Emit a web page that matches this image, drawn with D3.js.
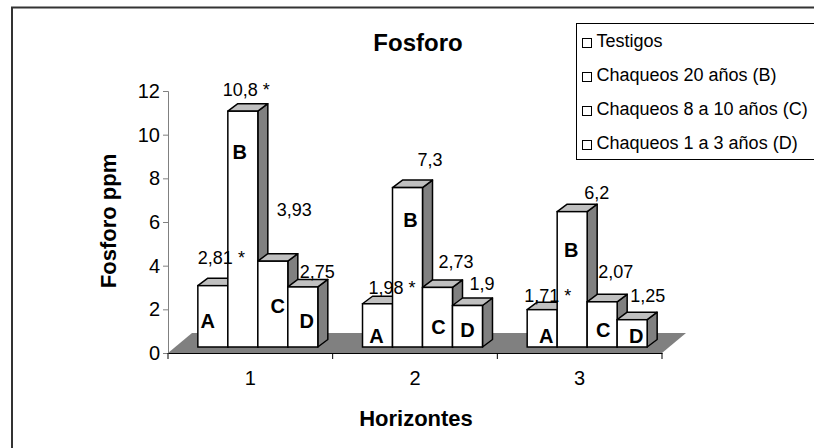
<!DOCTYPE html>
<html lang="es">
<head>
  <meta charset="UTF-8" />
  <title>Fosforo</title>
  <script src="https://d3js.org/d3.v7.min.js"></script>
  <style>
    body { margin: 0; padding: 0; background: #fff; }
    svg { display: block; font-family: "Liberation Sans", Arial, sans-serif; }
  </style>
</head>
<body>
  <svg width="814" height="448"></svg>

  <script>
    // datos
    const horizontes = ["1", "2", "3"];
    const letras = ["A", "B", "C", "D"];
    const series = ["Testigos", "Chaqueos 20 años (B)", "Chaqueos 8 a 10 años (C)", "Chaqueos 1 a 3 años (D)"];
    const testigos = [2.81, 1.98, 1.71];
    const chaqueos20 = [10.8, 7.3, 6.2];
    const chaqueos810 = [3.93, 2.73, 2.07];
    const chaqueos13 = [2.75, 1.9, 1.25];
    const asterisco = [[true, true, true], [true, false, false], [false, false, false], [false, false, false]];
    const yTicks = [0, 2, 4, 6, 8, 10, 12];

    const valores = [testigos, chaqueos20, chaqueos810, chaqueos13];

    // ajustes de las etiquetas (movidas a mano en el original)
    const nudgeValor = [
      [[0, -22], [6, -10], [-3, -8]],
      [[-5, -15], [25, -22], [27, -13]],
      [[19, -45], [16, -19], [11, -24]],
      [[12, -9], [17, -16], [13, -18]]
    ];
    const nudgeLetra = [
      [[-5, 19], [-1, 4], [4, 4]],
      [[-3, 188], [3, 120], [-1, 90]],
      [[5, 34], [1, 13], [1, 10]],
      [[4, 19], [0, 10], [4, 4]]
    ];

    const svg = d3.select("svg");

    const y = d3.scaleLinear().domain([0, 12]).range([353, 91]);
    const x0 = d3.scaleBand().domain(horizontes).range([168, 662]);
    const x1 = d3.scaleBand().domain(letras).range([0, x0.bandwidth()])
      .paddingInner(0).paddingOuter(0.745);

    const floorDepth = { x: 24, y: -20 };
    const barShift = { x: 7.5, y: -6 };
    const barDepth = { x: 10, y: -7.5 };

    // piso
    svg.append("polygon")
      .attr("points", [
        [x0.range()[0], y(0)],
        [x0.range()[1], y(0)],
        [x0.range()[1] + floorDepth.x, y(0) + floorDepth.y],
        [x0.range()[0] + floorDepth.x, y(0) + floorDepth.y]
      ].map(p => p.join(",")).join(" "))
      .attr("fill", "#808080");

    // eje y
    const gy = svg.append("g")
      .attr("transform", `translate(${x0.range()[0]},0)`)
      .call(d3.axisLeft(y).tickValues(yTicks).tickSize(5).tickPadding(3));
    gy.select(".domain").attr("stroke", "#808080");
    gy.selectAll(".tick line").attr("stroke", "#808080");
    gy.selectAll("text").attr("font-size", 20).attr("font-family", null).attr("fill", "#000");

    // eje x
    const gx = svg.append("g")
      .attr("transform", `translate(0,${y(0)})`)
      .call(d3.axisBottom(x0).tickSize(0).tickPadding(18));
    gx.select(".domain").attr("stroke", "#000");
    gx.selectAll("text").attr("font-size", 20).attr("font-family", null).attr("fill", "#000");
    const bordes = horizontes.map(h => x0(h)).concat([x0.range()[1]]);
    gx.selectAll("line.sep")
      .data(bordes)
      .join("line")
      .attr("class", "sep")
      .attr("x1", d => d).attr("x2", d => d)
      .attr("y1", 0).attr("y2", 6)
      .attr("stroke", "#000");

    // barras 3D
    const gBars = svg.append("g");
    const base = y(0) + barShift.y;
    const yb = v => y(v) + barShift.y;

    horizontes.forEach((h, hi) => {
      letras.forEach((l, si) => {
        const v = valores[si][hi];
        const bx = x0(h) + x1(l) + barShift.x;
        const bw = x1.bandwidth();
        const top = yb(v);
        const g = gBars.append("g");
        const pts = a => a.map(p => p.join(",")).join(" ");

        g.append("polygon")
          .attr("points", pts([[bx + bw, base], [bx + bw + barDepth.x, base + barDepth.y],
            [bx + bw + barDepth.x, top + barDepth.y], [bx + bw, top]]))
          .attr("fill", "#808080").attr("stroke", "#000").attr("stroke-width", 1.5)
          .attr("stroke-linejoin", "round");
        g.append("polygon")
          .attr("points", pts([[bx, top], [bx + barDepth.x, top + barDepth.y],
            [bx + bw + barDepth.x, top + barDepth.y], [bx + bw, top]]))
          .attr("fill", "#c0c0c0").attr("stroke", "#000").attr("stroke-width", 1.5)
          .attr("stroke-linejoin", "round");
        g.append("rect")
          .attr("x", bx).attr("y", top)
          .attr("width", bw).attr("height", base - top)
          .attr("fill", "#fff").attr("stroke", "#000").attr("stroke-width", 1.5);
      });
    });

    // letras dentro de las barras
    horizontes.forEach((h, hi) => {
      letras.forEach((l, si) => {
        const bx = x0(h) + x1(l) + barShift.x;
        const [dx, rise] = nudgeLetra[si][hi];
        svg.append("text")
          .attr("x", bx + x1.bandwidth() / 2 + dx)
          .attr("y", base - rise)
          .attr("text-anchor", "middle")
          .attr("font-size", 20)
          .attr("font-weight", "bold")
          .text(l);
      });
    });

    // etiquetas de valores
    const fmt = v => String(v).replace(".", ",");
    horizontes.forEach((h, hi) => {
      letras.forEach((l, si) => {
        const v = valores[si][hi];
        const bx = x0(h) + x1(l) + barShift.x;
        const [dx, dy] = nudgeValor[si][hi];
        svg.append("text")
          .attr("x", bx + dx)
          .attr("y", yb(v) + dy)
          .attr("font-size", 18)
          .text(fmt(v) + (asterisco[si][hi] ? " *" : ""));
      });
    });

    // titulos
    svg.append("text")
      .attr("x", 418).attr("y", 51)
      .attr("text-anchor", "middle")
      .attr("font-size", 24).attr("font-weight", "bold")
      .text("Fosforo");

    svg.append("text")
      .attr("transform", "translate(116,221) rotate(-90)")
      .attr("text-anchor", "middle")
      .attr("font-size", 22).attr("font-weight", "bold")
      .text("Fosforo ppm");

    svg.append("text")
      .attr("x", 416).attr("y", 426)
      .attr("text-anchor", "middle")
      .attr("font-size", 22).attr("font-weight", "bold")
      .text("Horizontes");

    // leyenda
    const leg = svg.append("g").attr("transform", "translate(576.5,23.5)");
    leg.append("rect")
      .attr("width", 300).attr("height", 136)
      .attr("fill", "#fff").attr("stroke", "#000");
    series.forEach((s, i) => {
      const by = 23.5 + i * 34;
      leg.append("rect")
        .attr("x", 6).attr("y", by - 8.5)
        .attr("width", 9).attr("height", 9)
        .attr("fill", "#fff").attr("stroke", "#000");
      leg.append("text")
        .attr("x", 20).attr("y", by)
        .attr("font-size", 18)
        .text(s);
    });

    // borde del grafico
    svg.append("rect")
      .attr("x", 12).attr("y", 7.5)
      .attr("width", 900).attr("height", 600)
      .attr("fill", "none")
      .attr("stroke", "#333").attr("stroke-width", 2);
  </script>
</body>
</html>
